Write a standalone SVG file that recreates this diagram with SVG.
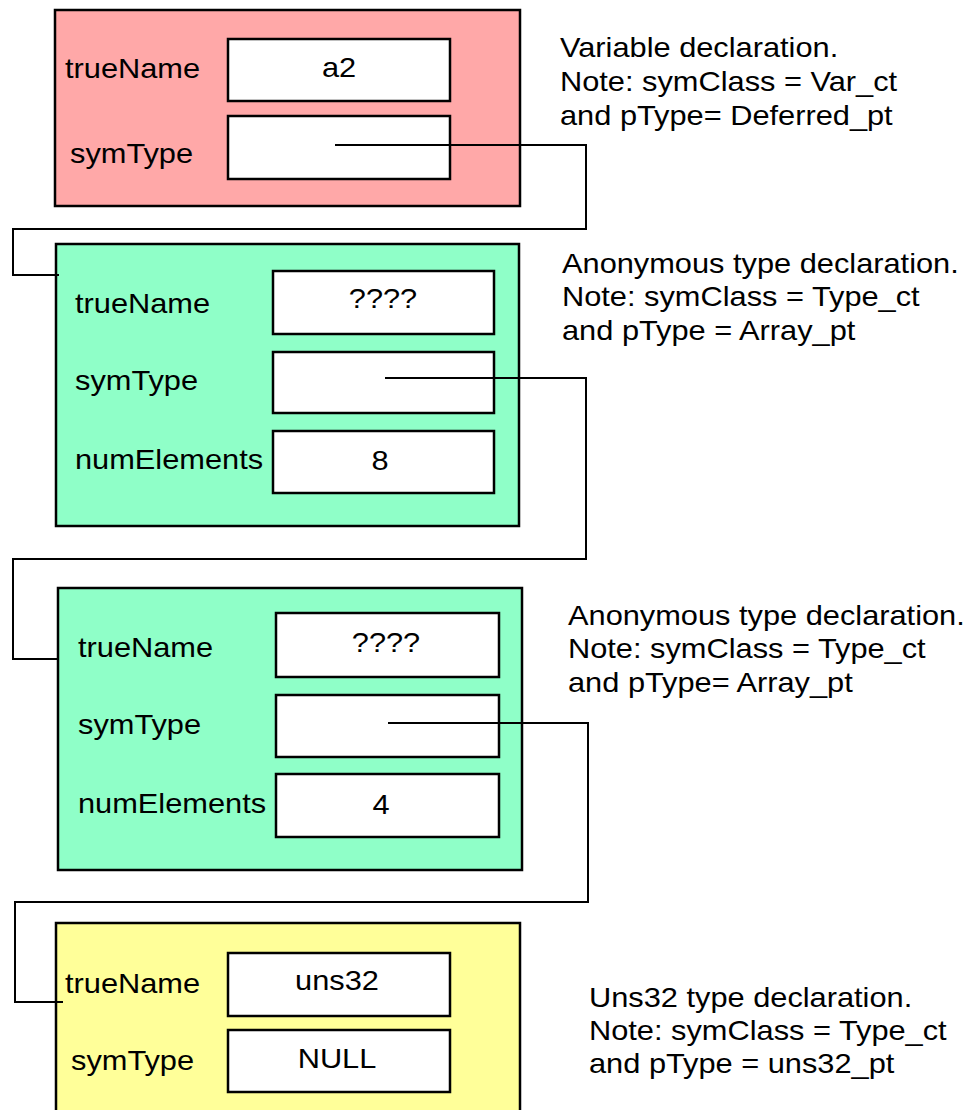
<svg xmlns="http://www.w3.org/2000/svg" width="966" height="1110" viewBox="0 0 966 1110">
<style>
text{font-family:"Liberation Sans",Arial,sans-serif;font-size:27px;fill:#000}
.mid{text-anchor:middle}
.node{stroke:#000;stroke-width:2.5}
.field{fill:#fff;stroke:#000;stroke-width:2.5}
.red{fill:#FFA8A8}
.green{fill:#8FFFC8}
.yellow{fill:#FFFF99}
.conn{fill:none;stroke:#000;stroke-width:2}
</style>
<rect width="966" height="1110" fill="#fff"/>
<g id="node-a2">
<rect class="node red" x="55" y="10" width="465" height="196"/>
<rect class="field" x="228" y="39" width="222" height="62"/>
<rect class="field" x="228" y="116" width="222" height="63"/>
<text transform="translate(65,78) scale(1.14,1)">trueName</text>
<text transform="translate(70,163) scale(1.14,1)">symType</text>
<text class="mid" transform="translate(339,77) scale(1.14,1)">a2</text>
</g>
<g id="note-a2">
<text transform="translate(560,57) scale(1.14,1)">Variable declaration.</text>
<text transform="translate(560,91) scale(1.14,1)">Note: symClass = Var_ct</text>
<text transform="translate(560,125) scale(1.14,1)">and pType= Deferred_pt</text>
</g>
<g id="node-array8">
<rect class="node green" x="56" y="244" width="463" height="282"/>
<rect class="field" x="273" y="271" width="221" height="63"/>
<rect class="field" x="273" y="352" width="221" height="61"/>
<rect class="field" x="273" y="431" width="221" height="62"/>
<text transform="translate(75,313) scale(1.14,1)">trueName</text>
<text transform="translate(75,390) scale(1.14,1)">symType</text>
<text transform="translate(75,469) scale(1.14,1)">numElements</text>
<text class="mid" transform="translate(383,308) scale(1.14,1)">????</text>
<text class="mid" transform="translate(380,470) scale(1.14,1)">8</text>
</g>
<g id="note-array8">
<text transform="translate(562,273) scale(1.14,1)">Anonymous type declaration.</text>
<text transform="translate(562,306) scale(1.14,1)">Note: symClass = Type_ct</text>
<text transform="translate(562,340) scale(1.14,1)">and pType = Array_pt</text>
</g>
<g id="node-array4">
<rect class="node green" x="58" y="588" width="464" height="282"/>
<rect class="field" x="276" y="613" width="223" height="64"/>
<rect class="field" x="276" y="695" width="223" height="62"/>
<rect class="field" x="276" y="774" width="223" height="63"/>
<text transform="translate(78,657) scale(1.14,1)">trueName</text>
<text transform="translate(78,734) scale(1.14,1)">symType</text>
<text transform="translate(78,813) scale(1.14,1)">numElements</text>
<text class="mid" transform="translate(386,652) scale(1.14,1)">????</text>
<text class="mid" transform="translate(381,814) scale(1.14,1)">4</text>
</g>
<g id="note-array4">
<text transform="translate(568,625) scale(1.14,1)">Anonymous type declaration.</text>
<text transform="translate(568,658) scale(1.14,1)">Note: symClass = Type_ct</text>
<text transform="translate(568,692) scale(1.14,1)">and pType= Array_pt</text>
</g>
<g id="node-uns32">
<rect class="node yellow" x="56" y="923" width="464" height="200"/>
<rect class="field" x="228" y="953" width="222" height="63"/>
<rect class="field" x="228" y="1030" width="222" height="62"/>
<text transform="translate(65,993) scale(1.14,1)">trueName</text>
<text transform="translate(71,1070) scale(1.14,1)">symType</text>
<text class="mid" transform="translate(337,990) scale(1.14,1)">uns32</text>
<text class="mid" transform="translate(337,1068) scale(1.14,1)">NULL</text>
</g>
<g id="note-uns32">
<text transform="translate(589,1007) scale(1.14,1)">Uns32 type declaration.</text>
<text transform="translate(589,1040) scale(1.14,1)">Note: symClass = Type_ct</text>
<text transform="translate(589,1073) scale(1.14,1)">and pType = uns32_pt</text>
</g>
<g id="connectors">
<polyline class="conn" points="335,145 586,145 586,229 13,229 13,275 59,275"/>
<polyline class="conn" points="385,378 586,378 586,559 13,559 13,659 58,659"/>
<polyline class="conn" points="388,723 588,723 588,902 15,902 15,1002 63,1002"/>
</g>
</svg>
